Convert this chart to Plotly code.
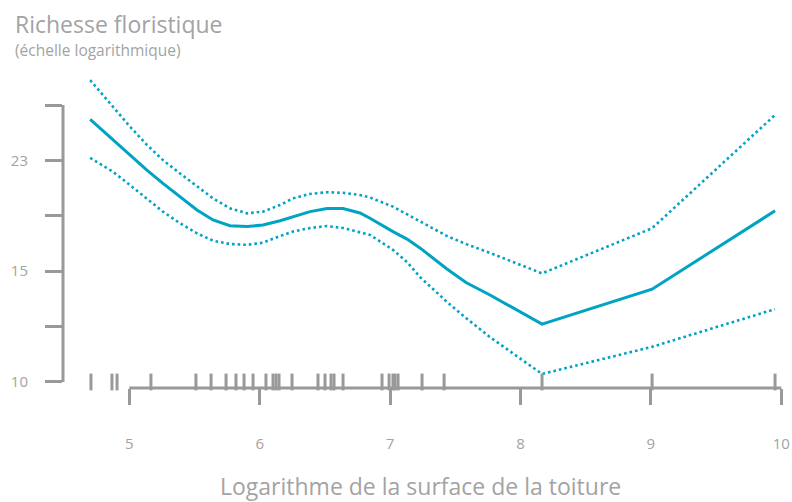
# -*- coding: utf-8 -*-
import plotly.graph_objects as plgo

# log of the roof surface (x) and fitted log(richness + 1) with its band
surface_x = [4.70, 4.875, 5.005, 5.135, 5.258, 5.389, 5.519, 5.642, 5.772, 5.903,
             6.025, 6.156, 6.256, 6.386, 6.516, 6.639, 6.769, 6.846, 7.022, 7.130,
             7.229, 7.436, 7.582, 7.766, 8.165, 9.009, 9.952]
fit_mid = [3.348, 3.274, 3.220, 3.165, 3.117, 3.069, 3.021, 2.985, 2.964, 2.961,
           2.967, 2.982, 2.996, 3.015, 3.026, 3.026, 3.010, 2.991, 2.943, 2.916,
           2.884, 2.808, 2.759, 2.714, 2.609, 2.735, 3.018]
fit_upper = [3.490, 3.394, 3.322, 3.256, 3.201, 3.153, 3.105, 3.063, 3.027, 3.009,
             3.015, 3.039, 3.063, 3.079, 3.085, 3.083, 3.075, 3.066, 3.033, 3.006,
             2.979, 2.927, 2.898, 2.866, 2.792, 2.955, 3.364]
fit_lower = [3.209, 3.159, 3.111, 3.063, 3.015, 2.973, 2.937, 2.910, 2.898, 2.895,
             2.903, 2.927, 2.943, 2.956, 2.963, 2.956, 2.942, 2.931, 2.877, 2.833,
             2.779, 2.689, 2.631, 2.562, 2.429, 2.527, 2.663]

# observed roof surfaces (rug)
rug_x = [4.706, 4.867, 4.906, 5.166, 5.511, 5.627, 5.742, 5.818, 5.880, 5.949,
         6.048, 6.102, 6.125, 6.148, 6.248, 6.447, 6.501, 6.547, 6.570, 6.639,
         6.938, 6.992, 7.022, 7.038, 7.061, 7.245, 7.414, 8.165, 9.009, 9.952]

x_ticks = [5, 6, 7, 8, 9, 10]
y_ticks = [2.4, 2.6, 2.8, 3.0, 3.2, 3.4]
y_tick_labels = ["10", "", "15", "", "23", ""]

TEAL = "#00a3c4"
AXIS_GREY = "#999999"
TEXT_GREY = "#a3a3a3"
FONT = "Open Sans, sans-serif"


def main():
    fig = plgo.Figure()
    dots = dict(color=TEAL, width=2.6, dash="2.6px,3px")
    fig.add_trace(plgo.Scatter(x=surface_x, y=fit_upper, mode="lines", line=dots))
    fig.add_trace(plgo.Scatter(x=surface_x, y=fit_lower, mode="lines", line=dots))
    fig.add_trace(plgo.Scatter(x=surface_x, y=fit_mid, mode="lines",
                               line=dict(color=TEAL, width=3)))
    # rug marks sitting on the x axis
    fig.add_trace(plgo.Scatter(x=rug_x, y=[y_ticks[0]] * len(rug_x), mode="markers",
                               marker=dict(symbol="line-ns", size=12,
                                           line=dict(color=AXIS_GREY, width=3)),
                               cliponaxis=False))

    # R-style axes: lines only span the tick range
    fig.add_shape(type="line", xref="x", yref="y domain", x0=x_ticks[0], x1=x_ticks[-1],
                  y0=0, y1=0, line=dict(color=AXIS_GREY, width=3))
    fig.add_shape(type="line", xref="x domain", yref="y", x0=0, x1=0,
                  y0=y_ticks[0], y1=y_ticks[-1], line=dict(color=AXIS_GREY, width=3))

    fig.update_layout(
        width=792, height=502,
        margin=dict(l=63, r=0, t=68, b=114),
        paper_bgcolor="white", plot_bgcolor="white",
        showlegend=False,
        font=dict(family=FONT, color=TEXT_GREY),
    )
    fig.update_xaxes(range=[4.4916, 10.082], showgrid=False, zeroline=False, showline=False,
                     tickvals=x_ticks, ticks="outside", ticklen=16, tickwidth=3,
                     tickcolor=AXIS_GREY, tickfont=dict(size=15, color=TEXT_GREY),
                     ticklabelstandoff=26)
    fig.update_yaxes(range=[2.3783, 3.5336], showgrid=False, zeroline=False, showline=False,
                     tickvals=y_ticks, ticktext=y_tick_labels, ticks="outside", ticklen=17,
                     tickwidth=3, tickcolor=AXIS_GREY, tickfont=dict(size=15, color=TEXT_GREY),
                     ticklabelstandoff=14)

    fig.add_annotation(text="Richesse floristique", xref="paper", yref="paper",
                       x=-0.0686, y=1.137, xanchor="left", yanchor="middle",
                       showarrow=False, font=dict(size=23, color=TEXT_GREY))
    fig.add_annotation(text="(échelle logarithmique)", xref="paper", yref="paper",
                       x=-0.0686, y=1.056, xanchor="left", yanchor="middle",
                       showarrow=False, font=dict(size=15.5, color=TEXT_GREY))
    fig.add_annotation(text="Logarithme de la surface de la toiture", xref="paper",
                       yref="paper", x=0.491, y=-0.306, xanchor="center", yanchor="middle",
                       showarrow=False, font=dict(size=23, color=TEXT_GREY))

    # the page's default 8px body margin would shift the whole chart
    fig.write_html("out.html", config={"displayModeBar": False},
                   post_script="document.body.style.margin='0';")


if __name__ == "__main__":
    main()
